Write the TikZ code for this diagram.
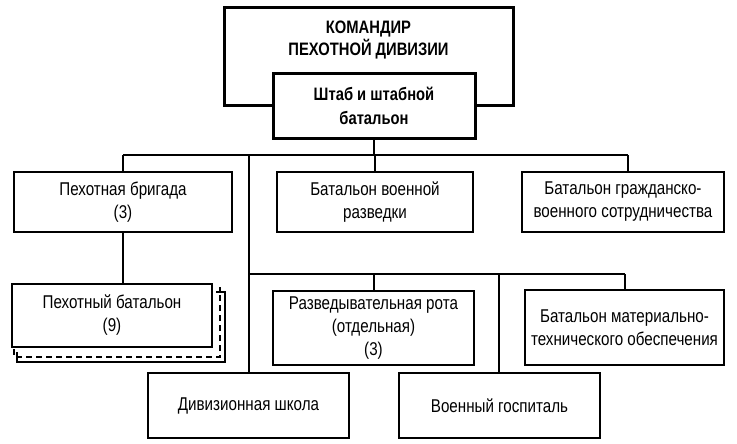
\documentclass[tikz,border=0pt]{standalone}
\usepackage{fontspec}
\setmainfont{Liberation Sans}[FakeStretch=0.82]
\begin{document}
\begin{tikzpicture}[x=1pt,y=-1pt,
  box/.style={draw,line width=1.6pt,fill=white,inner sep=0pt,align=center,font=\fontsize{18.5}{23}\selectfont},
  ln/.style={line width=1.4pt}]
\useasboundingbox (0,0) rectangle (737,444);
\def\bx#1#2#3#4#5#6{\node[box,minimum width=#4-#2,minimum height=#5-#3] (#1) at ({(#2+#4)/2},{(#3+#5)/2}) {#6};}
% commander
\node[draw,line width=3pt,minimum width=289,minimum height=98,inner sep=0pt] (cmd) at (368.5,57) {};
\node[font=\bfseries\fontsize{18}{22}\selectfont,align=center] (cmdt) at (368.5,40) {КОМАНДИР\\ПЕХОТНОЙ ДИВИЗИИ};
\node[draw,line width=3pt,fill=white,minimum width=202,minimum height=64,inner sep=0pt,align=center,font=\bfseries\fontsize{18}{24}\selectfont] (hq) at (374,106) {Штаб и штабной\\батальон};
\coordinate (b1) at (374,155);
\draw[ln] (hq.south) -- (b1);
\draw[ln] (123,155) -- (628,155);
\bx{bri}{14}{172}{232}{232}{Пехотная бригада\\(3)}
\bx{raz}{277}{172}{473}{232}{Батальон военной\\разведки}
\bx{gra}{522}{172}{724}{232}{Батальон гражданско-\\военного сотрудничества}
\draw[ln] (123,155) -- (bri.north -| 123,0);
\draw[ln] (375,155) -- (raz.north -| 375,0);
\draw[ln] (628,155) -- (gra.north -| 628,0);
% infantry battalion stack
\draw[line width=1.4pt] (17,352) -- (17,362) -- (225,362) -- (225,292) -- (216,292);
\draw[line width=1.4pt,dash pattern=on 6pt off 4pt] (14,349) -- (14,357) -- (220,357) -- (220,287);
\bx{bat}{12}{284}{212}{347}{Пехотный батальон\\(9)}
\draw[ln] (bri.south -| 123,0) -- (bat.north -| 123,0);
% lower bus
\draw[ln] (249,155) -- (249,373);
\draw[ln] (249,274) -- (625,274);
\bx{rot}{273}{291}{474}{365}{Разведывательная рота\\(отдельная)\\(3)}
\bx{mat}{525}{290}{724}{365}{Батальон материально-\\технического обеспечения}
\draw[ln] (374,274) -- (rot.north -| 374,0);
\draw[ln] (625,274) -- (mat.north -| 625,0);
\bx{sch}{148}{373}{349}{438}{Дивизионная школа}
\bx{hos}{399}{373}{600}{438}{Военный госпиталь}
\draw[ln] (499,274) -- (hos.north -| 499,0);
\end{tikzpicture}
\end{document}
